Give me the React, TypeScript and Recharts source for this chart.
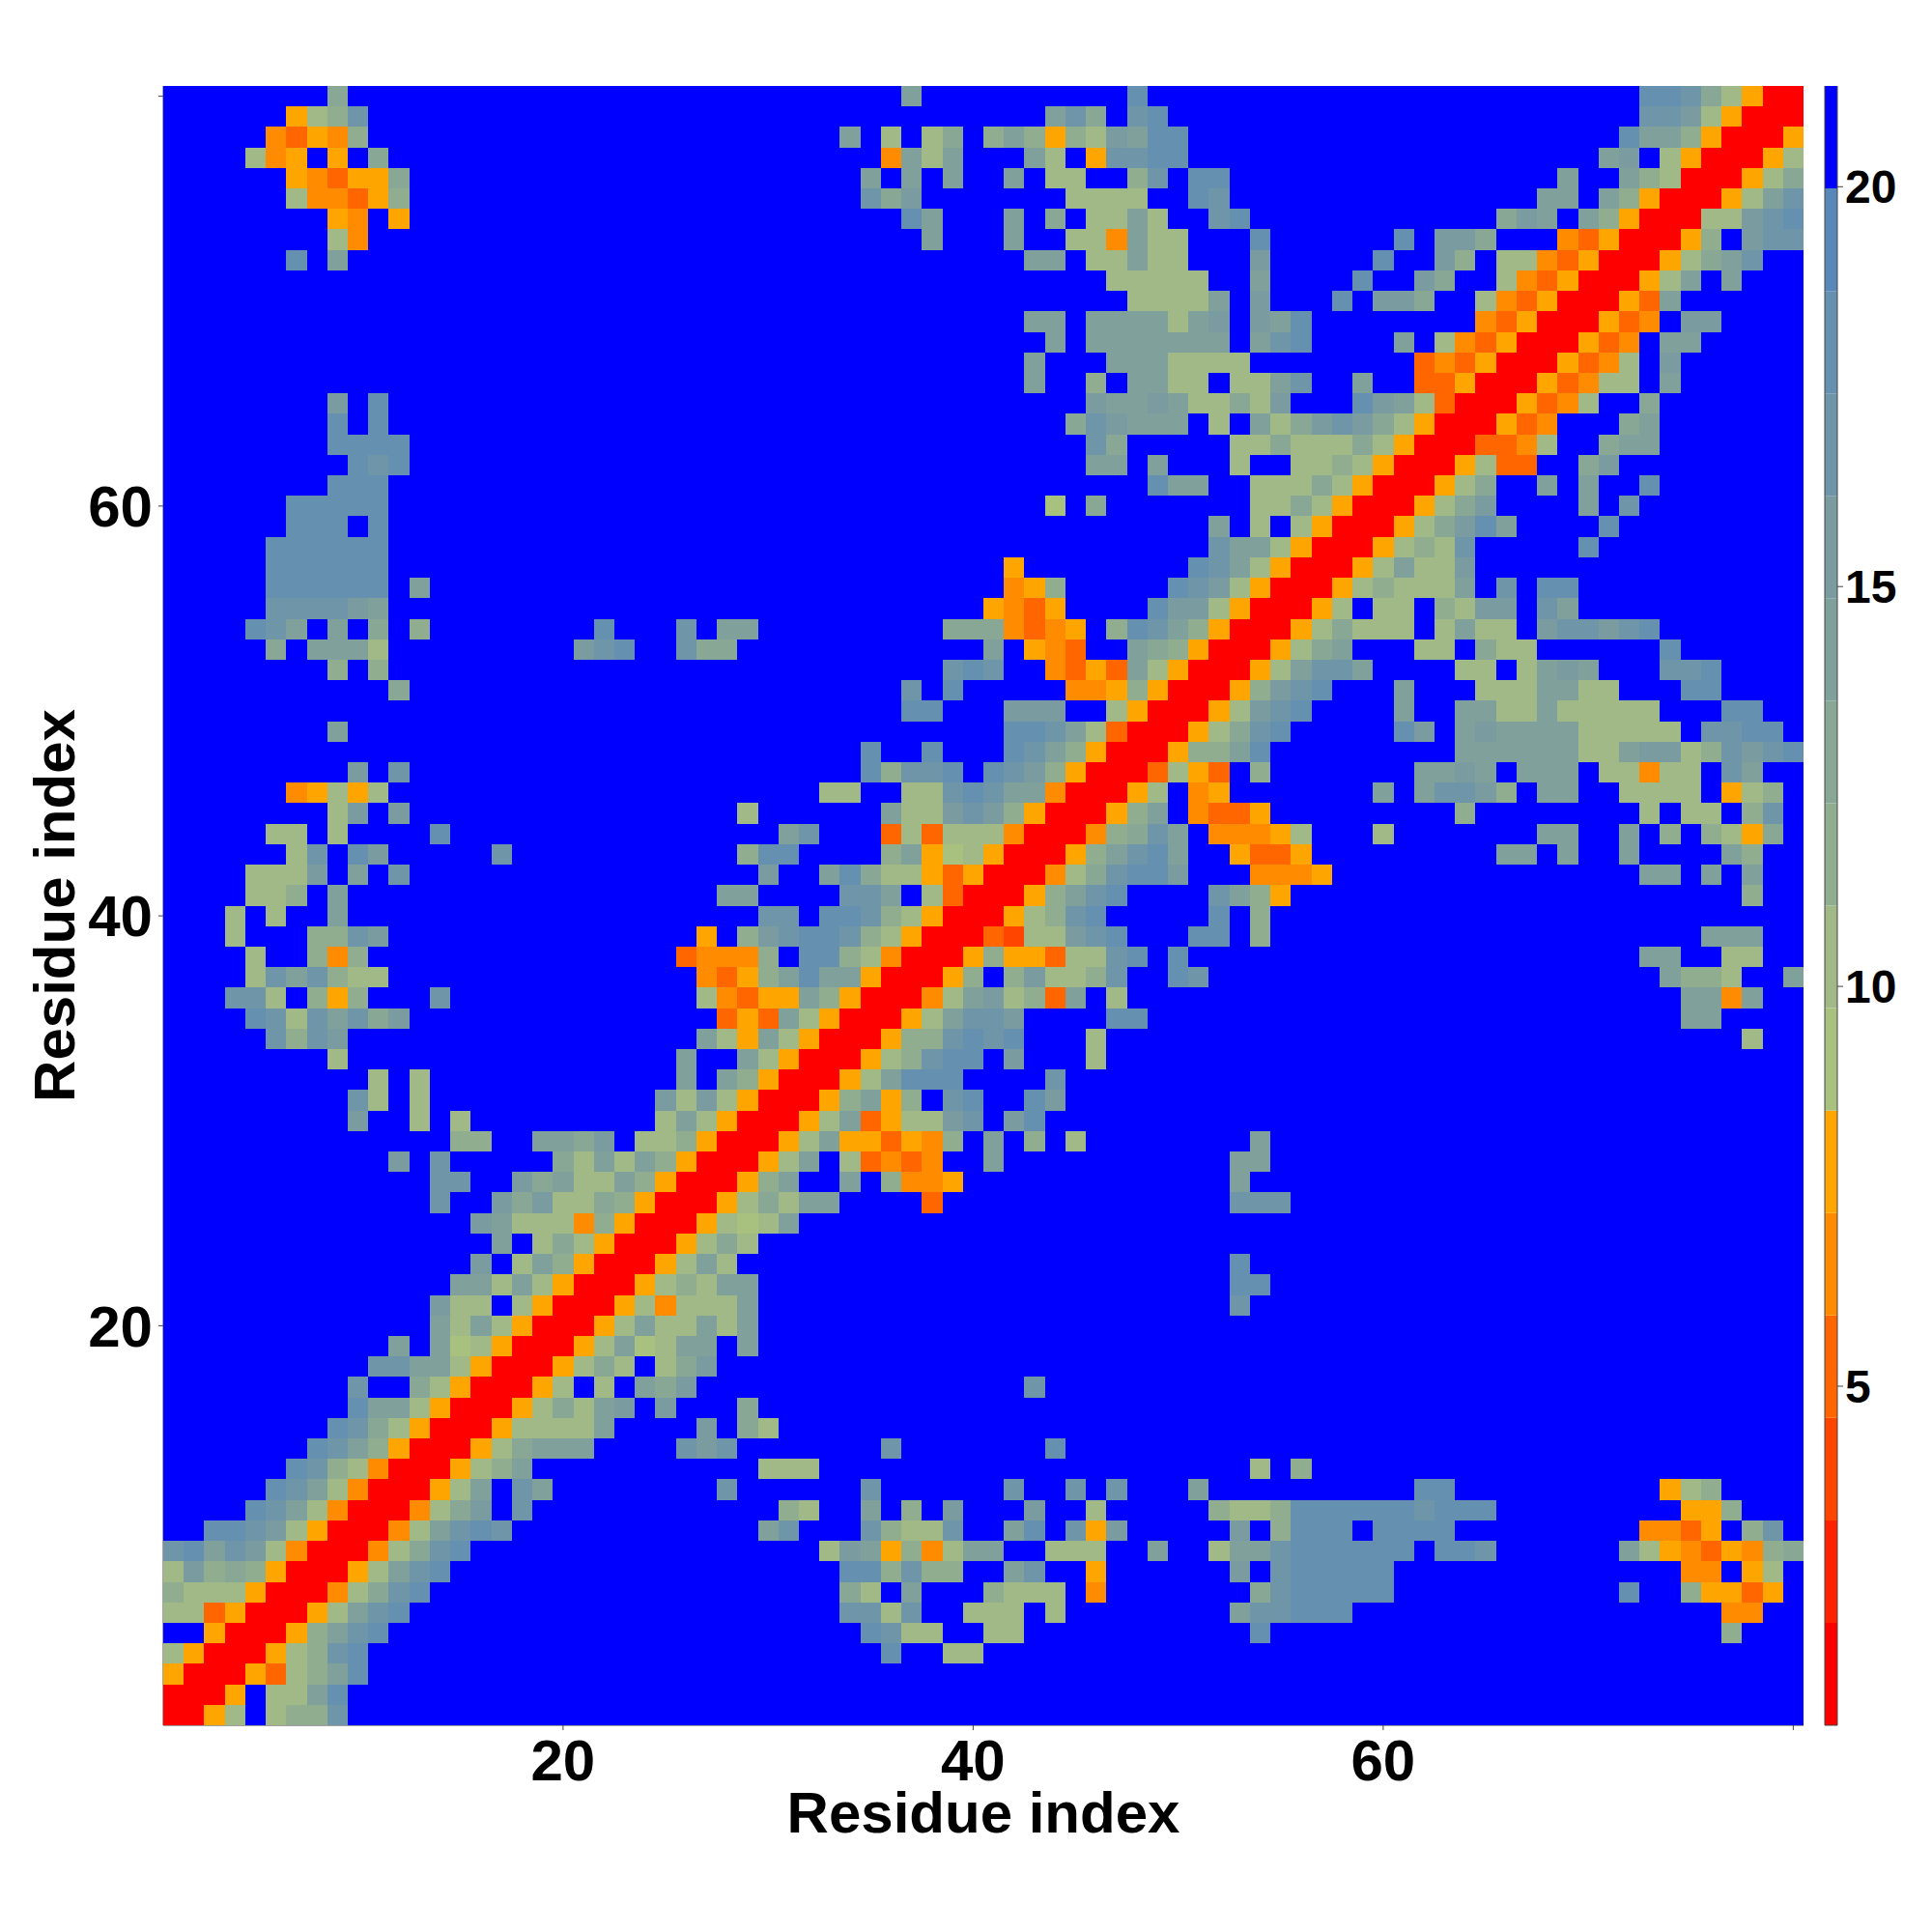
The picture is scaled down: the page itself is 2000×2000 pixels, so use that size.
import React from "react";
import { ScatterChart, Scatter, XAxis, YAxis, BarChart, Bar } from "recharts";

// Each row runs from residue 80 (top) down to residue 1. "col:levels": col is the 0-based
// column of the first cell, each hex digit a colour level; unlisted cells are level f.
const rowsTop: string[] = [
  "8:9 36:a 47:d 72:ddc97500",
  "6:578c 43:ac9 47:cd 72:ccb75000",
  "5:43548 33:a 35:7 37:79 40:8a858 45:7badd 71:daa850005",
  "4:745f5f9 35:4a7a 42:a7 45:5ccdd 70:abf7500057",
  "6:543559 34:afafa 41:a 43:77 47:8c 50:dd 68:a 71:a87000579",
  "6:744358 34:c9b 44:7777 50:dc 67:aa 70:a85000 76:57ac",
  "8:54 11:5 36:da 41:a 43:9 45:77a7 51:cd 65:9bafa85000 75:77bcd",
  "8:74 37:a 41:a 44:774a77 53:d 60:d 62:bb9 68:435000 74:58fbcc",
  "6:d 8:a 42:aa 45:77a77 53:b 59:d 62:b8 65:774350005 74:79ac",
  "46:77777 53:a 58:d 61:b9 65:743500057af 76:a",
  "47:7777a 53:b 57:d 59:bb9 64:7435000 71:53a",
  "42:aa 45:aaaa7ab 53:bad 64:435000534 74:bb",
  "43:a 45:aaaaaaa 53:acd 60:a 62:74350005 70:34 73:aa",
  "42:a 46:aaa7777 61:3435000 68:5347 73:b",
  "42:a 45:8 47:aa77 52:77ac 58:a 61:335000 67:53477 73:a",
  "8:b 10:d 45:baaba77 52:97b 58:dba730 64:00 66:5347 72:9",
  "8:d 10:d 44:9cbaaa 51:7 53:a79bcb975000 65:534 71:9a",
  "8:dddd 45:c9 52:77977 57:7975 61:000 64:3347 70:9aa",
  "9:dcd 45:aa 48:a 52:7 55:77875000 63:5733 69:9b",
  "8:ddd 48:daa 53:777975000 62:579 67:a 69:a 72:d",
  "6:ddddd 43:6 45:9 53:77975000 61:579b 69:a 71:c",
  "6:ddd 10:d 51:a 53:7 55:75000 60:579bda 70:d",
  "5:dddddd 51:caa75000 59:5787c 69:d",
  "5:dddddd 41:5 50:dca75000 58:57a77b",
  "5:dddddd 12:a 41:458 49:dcb75000 57:5787 61:77a 65:c 67:dd",
  "5:ccccba 40:5435 48:dbb75000 56:57f77f87bb 67:ca",
  "4:dcafaf9 12:8 21:d 25:c 27:aa 38:9994345 46:8dca85000 55:5797 59:77f7a77 67:bccbcd",
  "5:9 7:aaa7 20:bcd 25:c99 40:a 42:543 47:a9850005 55:79a 61:77f977 73:d",
  "8:8 10:8 38:cdc 43:4353a75000 53:57acca 63:77f7aba 73:ccd",
  "11:9 36:c 38:d 44:4458500 51:058bcd 60:a 64:777aa77 74:dd",
  "36:dd 41:bbb 46:750005 52:7bcd 60:a 63:aa77a77777 76:dd",
  "8:a 41:ddca73000 50:579cd 60:db 63:abaaaa77777 75:ccdd",
  "34:d 37:d 41:dca85000 49:588ad 63:aaaaaa77abb78cbcd",
  "9:b 11:c 34:d8ccd 40:dcb85000 48:3753 53:8 61:aaba 66:aaa 70:77477 76:ca",
  "6:45757 32:77 36:77cdcaa4000 47:57 50:45 59:a 61:accb8 67:aa 71:7777 76:578",
  "8:7b 11:b 28:7 35:a77bcb85000 46:58a 50:4335 63:8 72:7 74:77 77:8c",
  "5:77 8:7 13:d 30:ac 35:37377740004 46:89ca 51:44457 59:7 67:aa 71:a 73:8 75:8759",
  "6:7c 9:db 16:c 28:8dd 35:8a567500 43:058acda 52:5335 65:aa 68:a 71:a 76:a8",
  "4:777b 9:a 11:c 29:b 32:ad977535000 43:479cddb 53:4445 72:aa 75:a 77:a",
  "4:778 8:a 27:aa 33:cca 37:730005 43:8acd 51:ca85 77:8",
  "3:7 5:7 8:a 29:cc 32:ddc875000 41:578cd 51:d 53:8",
  "3:7 7:88cb 26:5 28:8bcddc875000 40:3277bcd 50:dd 53:8 75:aaa",
  "4:7 7:848 25:34448 31:dd874000 39:58553 44:77cd 49:d 72:aa 76:77",
  "4:7cac877 26:4358 30:adaa5000 38:58 41:8b778c 49:dc 73:a887 79:a",
  "3:cc7 7:858 13:c 26:74355a85000 37:47ab783a 46:7 74:aa4a",
  "4:dc7cac9b 27:353a75000 36:57accb 46:dd 74:aa",
  "5:c8cb 26:a75a75000 35:588cdcd 45:7 77:7",
  "8:7 25:a 28:a75000 34:578cdd 41:b 45:7",
  "10:7 12:7 25:a 27:a85000 33:57addd 43:c",
  "9:c7 12:7 24:b7b75000 32:58a58 38:cd 42:db",
  "9:b 12:7 14:7 24:7a75000 31:57a3577bc 41:bd",
  "14:88 18:aa9b 23:7785000 30:57a55354 38:8 40:a 42:8 44:7 53:a",
  "11:b 13:c 19:97a7a85000 29:57a 33:73434 40:a 52:aa",
  "13:cc 17:b9a77a85000 28:58a 33:a 35:8445 52:a",
  "13:c 16:b9b779850 25:00 27:5797aa 37:3 52:ccc",
  "15:ba77748500 25:05767a",
  "16:a 18:7975000 25:5797",
  "15:b 17:7a85000 24:57a7 52:d",
  "14:aa7a75000 23:5787aa 52:dd",
  "13:b77 17:75000 22:5747 26:77a 52:c",
  "13:a7a75000 21:57a77a7a",
  "11:a 13:a675000 20:57a67aa 28:a",
  "10:ccaa75000 19:5797f79b",
  "9:c 12:975000 18:57f7fa9b 42:c",
  "9:daa75000 17:5797ab 24:b 28:9",
  "8:dc975000 16:57777a 26:b 28:97",
  "7:dca85000 15:579aaa 25:cbc 35:c 43:d",
  "6:dc874000 14:578a 29:777 53:7 55:8",
  "5:dca74000 13:57af 17:ca 27:c 34:c 41:c 44:c 46:c 50:a 61:dd 73:578",
  "4:dca74000 12:479b 17:c 30:87 34:a 36:8 38:b 42:b 45:7 51:87 53:78dddddd 61:cddd 74:558",
  "2:ddcb75000 11:47acdc 29:ac 34:c877c 41:ad 44:c5b 52:b 54:8ddd 59:dddd 72:4435 77:8c",
  "0:cdacb74000 10:479cd 32:7ba5847aa 43:777 48:a 51:7aac 55:dddddd 62:ddc 71:a75435489",
  "0:7b89850 7:005 10:7acd 33:dd8c88 41:ac 45:5 52:b 54:cddddd 74:44 77:57",
  "0:87775000 8:479cd 33:97 36:a 40:8777 45:4 53:9cddddd 71:d 74:85535",
  "0:773500 6:057acd 33:cc7c 39:777 43:7 52:accddd 76:44",
  "2:50005 7:8acd 34:dc77 40:77 53:d 76:8",
  "0:75000 5:578cd 35:d 38:77",
  "0:500 3:053 6:78ad",
  "0:0005f77ad",
  "0:0057f788c",
];

// Colour levels, red (closest) to blue (farthest), and the scale's limits.
const levelColors: string[] = [
  "#ff0000", "#ff2200", "#ff4500", "#ff6600", "#ff8c00", "#ffa500",
  "#a9c17f", "#a0b987", "#90ae8f", "#88a895", "#7fa09b", "#7a9ca0",
  "#6f95a8", "#6690b0", "#5888ba", "#0000ff",
];
const scaleMin = 0.76;
const scaleMax = 21.26;
const axisTicks: number[] = [20, 40, 60, 80];
const barTicks: number[] = [5, 10, 15, 20];
const axisTitle = "Residue index";

const N = 80;
const LEFT = 169;
const TOP = 89;
const PLOT_W = 1698;
const PLOT_H = 1697;
const FONT = "'Liberation Sans', Arial, sans-serif";

const step = (scaleMax - scaleMin) / levelColors.length;

function parseRow(row: string): number[] {
  const out = new Array(N).fill(15);
  for (const seg of row.split(" ")) {
    const [c, levels] = seg.split(":");
    [...levels].forEach((ch, i) => {
      out[Number(c) + i] = parseInt(ch, 16);
    });
  }
  return out;
}

const cells: { x: number; y: number; value: number; level: number }[] = [];
rowsTop.forEach((row, t) => {
  parseRow(row).forEach((level, c) => {
    cells.push({ x: c + 1, y: N - t, value: scaleMin + (level + 0.5) * step, level });
  });
});

const barRow: Record<string, number | string> = { name: "scale", base: scaleMin };
levelColors.forEach((_, i) => {
  barRow[`l${i}`] = step;
});
const barData = [barRow];

const cellW = PLOT_W / N;
const cellH = PLOT_H / N;

function CellShape(props: any) {
  const { cx, cy, payload } = props;
  return (
    <rect
      x={cx - cellW / 2}
      y={cy - cellH / 2}
      width={cellW}
      height={cellH}
      shapeRendering="crispEdges"
      fill={levelColors[payload.level]}
    />
  );
}

const tickStyle = { fontSize: 60, fontWeight: 700, fontFamily: FONT, fill: "#000" };
const lineStyle = { stroke: "#444", strokeWidth: 1 };
const labelStyle = { fontSize: 60, fontWeight: 700, fontFamily: FONT, fill: "#000" };

export default function App() {
  return (
    <div style={{ position: "absolute", left: 0, top: 0, width: 2000, height: 2000, background: "#fff" }}>
      <div style={{ position: "absolute", left: 0, top: 0 }}>
        <ScatterChart
          width={2000}
          height={2000}
          margin={{ top: TOP, right: 2000 - LEFT - PLOT_W, bottom: 0, left: 0 }}
        >
          <XAxis
            xAxisId="top"
            orientation="top"
            type="number"
            dataKey="x"
            domain={[0.5, 80.5]}
            ticks={axisTicks}
            height={0}
            tickSize={5}
            tickLine={lineStyle}
            axisLine={lineStyle}
            tickFormatter={() => ""}
          />
          <YAxis
            yAxisId="right"
            orientation="right"
            type="number"
            dataKey="y"
            domain={[0.5, 80.5]}
            ticks={axisTicks}
            width={0}
            tickSize={5}
            tickLine={lineStyle}
            axisLine={lineStyle}
            tickFormatter={() => ""}
          />
          <XAxis
            xAxisId="main"
            type="number"
            dataKey="x"
            domain={[0.5, 80.5]}
            ticks={axisTicks}
            interval={0}
            height={2000 - TOP - PLOT_H}
            tickSize={5}
            tickMargin={9}
            tick={tickStyle}
            tickLine={lineStyle}
            axisLine={lineStyle}
            tickFormatter={(v: number) => (v === 80 ? "" : String(v))}
            label={{ value: axisTitle, position: "insideBottom", offset: 103, style: labelStyle }}
          />
          <YAxis
            yAxisId="main"
            type="number"
            dataKey="y"
            domain={[0.5, 80.5]}
            ticks={axisTicks}
            interval={0}
            width={LEFT}
            tickSize={5}
            tickMargin={6}
            tick={tickStyle}
            tickLine={lineStyle}
            axisLine={lineStyle}
            tickFormatter={(v: number) => (v === 80 ? "" : String(v))}
            label={{ value: axisTitle, angle: -90, position: "insideLeft", offset: 56, style: { ...labelStyle, textAnchor: "middle" } }}
          />
          <Scatter data={cells} xAxisId="main" yAxisId="main" shape={CellShape} isAnimationActive={false} />
        </ScatterChart>
      </div>
      <div style={{ position: "absolute", left: 1850, top: 0 }}>
        <BarChart
          width={150}
          height={2000}
          data={barData}
          barCategoryGap={0}
          margin={{ top: TOP, right: 0, bottom: 0, left: 0 }}
        >
          <XAxis dataKey="name" height={2000 - TOP - PLOT_H} tick={false} tickLine={false} axisLine={lineStyle} />
          <YAxis yAxisId="left" type="number" domain={[scaleMin, scaleMax]} width={39} tick={false} tickLine={false} axisLine={lineStyle} />
          <YAxis
            yAxisId="scale"
            orientation="right"
            type="number"
            domain={[scaleMin, scaleMax]}
            allowDataOverflow
            ticks={barTicks}
            interval={0}
            width={98}
            tickSize={6}
            tickMargin={2}
            tick={{ fontSize: 48, fontWeight: 700, fontFamily: FONT, fill: "#000" }}
            tickLine={lineStyle}
            axisLine={lineStyle}
          />
          <Bar dataKey="base" stackId="s" yAxisId="scale" fill="none" isAnimationActive={false} />
          {levelColors.map((color, i) => (
            <Bar key={i} dataKey={`l${i}`} stackId="s" yAxisId="scale" fill={color} isAnimationActive={false} />
          ))}
        </BarChart>
      </div>
    </div>
  );
}
